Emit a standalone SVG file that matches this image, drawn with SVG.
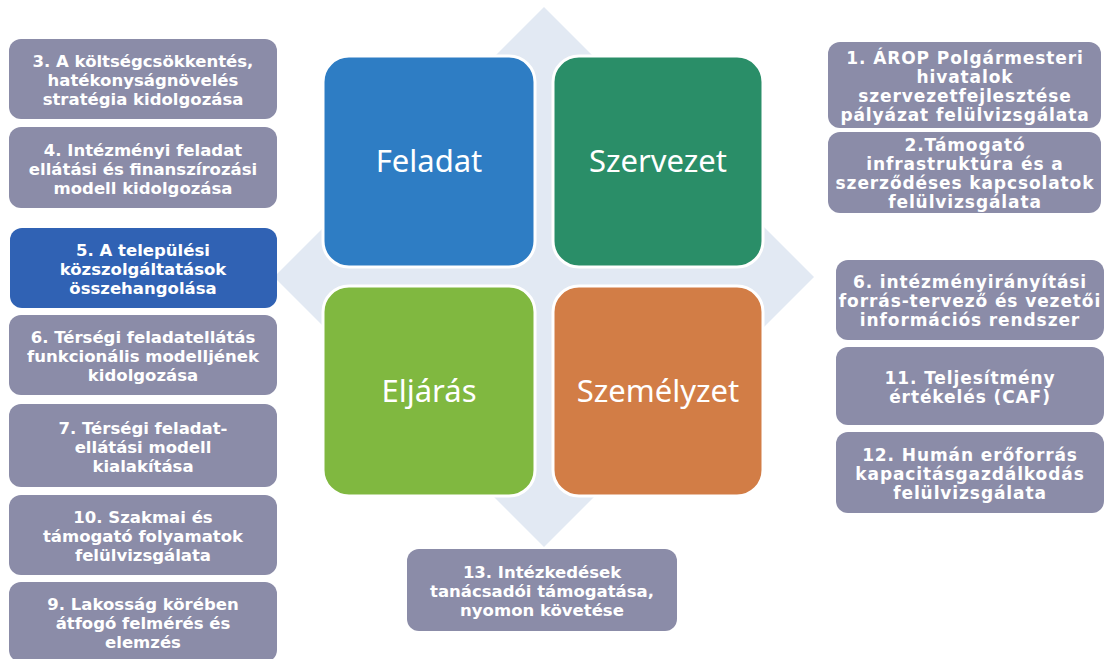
<svg xmlns="http://www.w3.org/2000/svg" width="1105" height="659" viewBox="0 0 1105 659">
<style>
.bg{fill:#ffffff}
.gbox{fill:#8b8ca8}
.bbox{fill:#3062b4}
.t{fill:#ffffff;font-family:"DejaVu Sans","Liberation Sans",sans-serif;font-weight:bold;font-size:16.5px;text-anchor:middle}
.tr{font-size:17px;letter-spacing:0.9px}
.q{stroke:#ffffff;stroke-width:3}
.qt{fill:#ffffff;font-family:"Noto Sans","Open Sans",sans-serif;font-size:31px;text-anchor:middle}
</style>
<rect class="bg" x="0" y="0" width="1105" height="659"/>
<g id="diamond">
<polygon points="544,7 814,277 544,547 274,277" fill="#e2e9f3"/>
</g>
<g id="feladat">
<rect class="q" x="323" y="56" width="212" height="211" rx="26" fill="#2e7dc4"/>
<text class="qt" x="429" y="172">Feladat</text>
</g>
<g id="szervezet">
<rect class="q" x="553" y="56" width="210" height="211" rx="26" fill="#2a8e68"/>
<text class="qt" x="658" y="172">Szervezet</text>
</g>
<g id="eljaras">
<rect class="q" x="323" y="286" width="212" height="210" rx="26" fill="#80b840"/>
<text class="qt" x="429" y="402">Eljárás</text>
</g>
<g id="szemelyzet">
<rect class="q" x="553" y="286" width="210" height="210" rx="26" fill="#d27d46"/>
<text class="qt" x="658" y="402">Személyzet</text>
</g>
<g id="n3">
<rect class="gbox" x="9" y="39" width="268" height="80" rx="12"/>
<text class="t" x="143" y="67">3. A költségcsökkentés,</text>
<text class="t" x="143" y="86">hatékonyságnövelés</text>
<text class="t" x="143" y="105">stratégia kidolgozása</text>
</g>
<g id="n4">
<rect class="gbox" x="9" y="127" width="268" height="81" rx="12"/>
<text class="t" x="143" y="155.5">4. Intézményi feladat</text>
<text class="t" x="143" y="174.5">ellátási és finanszírozási</text>
<text class="t" x="143" y="193.5">modell kidolgozása</text>
</g>
<g id="n5">
<rect class="bbox" x="10" y="228" width="267" height="80" rx="12"/>
<text class="t" x="143" y="256">5. A települési</text>
<text class="t" x="143" y="275">közszolgáltatások</text>
<text class="t" x="143" y="294">összehangolása</text>
</g>
<g id="n6">
<rect class="gbox" x="9" y="315" width="268" height="80" rx="12"/>
<text class="t" x="143" y="343">6. Térségi feladatellátás</text>
<text class="t" x="143" y="362">funkcionális modelljének</text>
<text class="t" x="143" y="381">kidolgozása</text>
</g>
<g id="n7">
<rect class="gbox" x="9" y="404" width="268" height="83" rx="12"/>
<text class="t" x="143" y="433.5">7. Térségi feladat-</text>
<text class="t" x="143" y="452.5">ellátási modell</text>
<text class="t" x="143" y="471.5">kialakítása</text>
</g>
<g id="n10">
<rect class="gbox" x="9" y="495" width="268" height="80" rx="12"/>
<text class="t" x="143" y="523">10. Szakmai és</text>
<text class="t" x="143" y="542">támogató folyamatok</text>
<text class="t" x="143" y="561">felülvizsgálata</text>
</g>
<g id="n9">
<rect class="gbox" x="9" y="582" width="268" height="80" rx="12"/>
<text class="t" x="143" y="610">9. Lakosság körében</text>
<text class="t" x="143" y="629">átfogó felmérés és</text>
<text class="t" x="143" y="648">elemzés</text>
</g>
<g id="n1">
<rect class="gbox" x="828" y="42" width="273" height="86" rx="12"/>
<text class="t tr" x="965" y="64">1. ÁROP Polgármesteri</text>
<text class="t tr" x="965" y="83">hivatalok</text>
<text class="t tr" x="965" y="102">szervezetfejlesztése</text>
<text class="t tr" x="965" y="121">pályázat felülvizsgálata</text>
</g>
<g id="n2">
<rect class="gbox" x="828" y="132" width="273" height="81" rx="12"/>
<text class="t tr" x="965" y="151">2.Támogató</text>
<text class="t tr" x="965" y="170">infrastruktúra és a</text>
<text class="t tr" x="965" y="189">szerződéses kapcsolatok</text>
<text class="t tr" x="965" y="208">felülvizsgálata</text>
</g>
<g id="n6r">
<rect class="gbox" x="836" y="260" width="268" height="80" rx="12"/>
<text class="t tr" x="970" y="288">6. intézményirányítási</text>
<text class="t tr" x="970" y="307">forrás-tervező és vezetői</text>
<text class="t tr" x="970" y="326">információs rendszer</text>
</g>
<g id="n11">
<rect class="gbox" x="836" y="347" width="268" height="78" rx="12"/>
<text class="t tr" x="970" y="384">11. Teljesítmény</text>
<text class="t tr" x="970" y="403">értékelés (CAF)</text>
</g>
<g id="n12">
<rect class="gbox" x="836" y="432" width="268" height="81" rx="12"/>
<text class="t tr" x="970" y="460.5">12. Humán erőforrás</text>
<text class="t tr" x="970" y="479.5">kapacitásgazdálkodás</text>
<text class="t tr" x="970" y="498.5">felülvizsgálata</text>
</g>
<g id="n13">
<rect class="gbox" x="407" y="549" width="270" height="82" rx="12"/>
<text class="t" x="542" y="578">13. Intézkedések</text>
<text class="t" x="542" y="597">tanácsadói támogatása,</text>
<text class="t" x="542" y="616">nyomon követése</text>
</g>
</svg>
